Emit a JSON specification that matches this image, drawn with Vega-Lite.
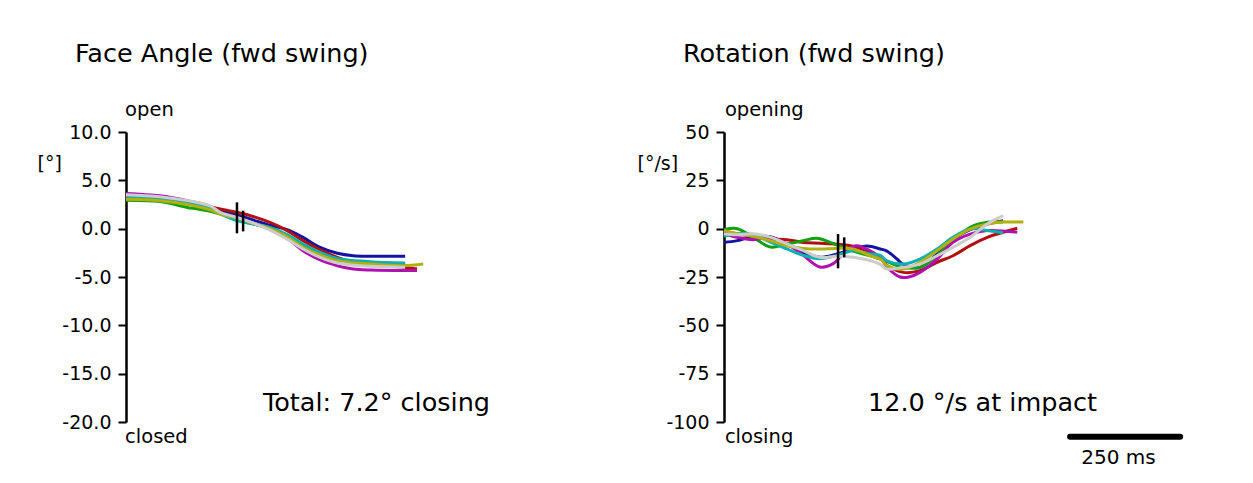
{
  "$schema": "https://vega.github.io/schema/vega-lite/v6.json",
  "autosize": {"type": "pad"},
  "padding": {"left": 37, "top": 41, "right": 57, "bottom": 16},
  "background": "white",
  "bounds": "flush",
  "spacing": 126,
  "config": {
    "view": {"stroke": null},
    "font": "DejaVu Sans",
    "text": {"font": "DejaVu Sans", "color": "black"},
    "axis": {
      "grid": false, "domainColor": "black", "domainWidth": 2.5,
      "tickColor": "black", "tickWidth": 2, "tickSize": 8,
      "labelColor": "black", "labelFontSize": 19, "labelFont": "DejaVu Sans", "labelPadding": 7,
      "labelFlush": false, "labelOverlap": false,
      "titleFont": "DejaVu Sans", "titleFontSize": 19, "titleFontWeight": "normal", "titleColor": "black"
    }
  },
  "datasets": {
    "curves": [
      {"panel":"face","series":"blue","t":0,"v":3.2},{"panel":"face","series":"blue","t":77,"v":3.05},{"panel":"face","series":"blue","t":139,"v":2.7},{"panel":"face","series":"blue","t":191,"v":2.1},{"panel":"face","series":"blue","t":214,"v":1.85},{"panel":"face","series":"blue","t":252,"v":1.41},{"panel":"face","series":"blue","t":282,"v":1.0},{"panel":"face","series":"blue","t":327,"v":0.35},{"panel":"face","series":"blue","t":366,"v":-0.1},{"panel":"face","series":"blue","t":402,"v":-0.9},{"panel":"face","series":"blue","t":441,"v":-1.93},{"panel":"face","series":"blue","t":480,"v":-2.55},{"panel":"face","series":"blue","t":516,"v":-2.8},{"panel":"face","series":"blue","t":555,"v":-2.85},{"panel":"face","series":"blue","t":634,"v":-2.86},
      {"panel":"face","series":"red","t":0,"v":3.2},{"panel":"face","series":"red","t":77,"v":3.05},{"panel":"face","series":"red","t":139,"v":2.75},{"panel":"face","series":"red","t":191,"v":2.25},{"panel":"face","series":"red","t":214,"v":2.03},{"panel":"face","series":"red","t":252,"v":1.69},{"panel":"face","series":"red","t":282,"v":1.35},{"panel":"face","series":"red","t":327,"v":0.65},{"panel":"face","series":"red","t":366,"v":-0.2},{"panel":"face","series":"red","t":402,"v":-1.24},{"panel":"face","series":"red","t":441,"v":-2.2},{"panel":"face","series":"red","t":480,"v":-2.97},{"panel":"face","series":"red","t":516,"v":-3.48},{"panel":"face","series":"red","t":555,"v":-3.76},{"panel":"face","series":"red","t":630,"v":-4.0},{"panel":"face","series":"red","t":661,"v":-4.17},
      {"panel":"face","series":"green","t":0,"v":2.95},{"panel":"face","series":"green","t":77,"v":2.8},{"panel":"face","series":"green","t":139,"v":2.2},{"panel":"face","series":"green","t":161,"v":2.05},{"panel":"face","series":"green","t":191,"v":1.8},{"panel":"face","series":"green","t":214,"v":1.52},{"panel":"face","series":"green","t":252,"v":0.9},{"panel":"face","series":"green","t":282,"v":0.55},{"panel":"face","series":"green","t":327,"v":0.05},{"panel":"face","series":"green","t":366,"v":-0.8},{"panel":"face","series":"green","t":402,"v":-1.8},{"panel":"face","series":"green","t":441,"v":-2.6},{"panel":"face","series":"green","t":480,"v":-3.2},{"panel":"face","series":"green","t":555,"v":-3.6},{"panel":"face","series":"green","t":634,"v":-3.7},
      {"panel":"face","series":"magenta","t":0,"v":3.65},{"panel":"face","series":"magenta","t":77,"v":3.4},{"panel":"face","series":"magenta","t":139,"v":2.9},{"panel":"face","series":"magenta","t":191,"v":2.3},{"panel":"face","series":"magenta","t":214,"v":1.6},{"panel":"face","series":"magenta","t":252,"v":1.0},{"panel":"face","series":"magenta","t":282,"v":0.6},{"panel":"face","series":"magenta","t":327,"v":0.0},{"panel":"face","series":"magenta","t":366,"v":-1.0},{"panel":"face","series":"magenta","t":402,"v":-2.28},{"panel":"face","series":"magenta","t":441,"v":-3.24},{"panel":"face","series":"magenta","t":480,"v":-3.83},{"panel":"face","series":"magenta","t":516,"v":-4.17},{"panel":"face","series":"magenta","t":555,"v":-4.28},{"panel":"face","series":"magenta","t":661,"v":-4.34},
      {"panel":"face","series":"cyan","t":0,"v":3.35},{"panel":"face","series":"cyan","t":77,"v":3.15},{"panel":"face","series":"cyan","t":139,"v":2.75},{"panel":"face","series":"cyan","t":191,"v":2.1},{"panel":"face","series":"cyan","t":214,"v":1.55},{"panel":"face","series":"cyan","t":252,"v":0.83},{"panel":"face","series":"cyan","t":282,"v":0.55},{"panel":"face","series":"cyan","t":327,"v":0.14},{"panel":"face","series":"cyan","t":366,"v":-0.6},{"panel":"face","series":"cyan","t":402,"v":-1.59},{"panel":"face","series":"cyan","t":441,"v":-2.45},{"panel":"face","series":"cyan","t":480,"v":-3.07},{"panel":"face","series":"cyan","t":555,"v":-3.41},{"panel":"face","series":"cyan","t":634,"v":-3.55},
      {"panel":"face","series":"yellow","t":0,"v":3.05},{"panel":"face","series":"yellow","t":77,"v":2.9},{"panel":"face","series":"yellow","t":139,"v":2.5},{"panel":"face","series":"yellow","t":191,"v":1.95},{"panel":"face","series":"yellow","t":214,"v":1.52},{"panel":"face","series":"yellow","t":252,"v":1.1},{"panel":"face","series":"yellow","t":282,"v":0.65},{"panel":"face","series":"yellow","t":327,"v":0.0},{"panel":"face","series":"yellow","t":366,"v":-0.85},{"panel":"face","series":"yellow","t":402,"v":-1.93},{"panel":"face","series":"yellow","t":441,"v":-2.72},{"panel":"face","series":"yellow","t":480,"v":-3.31},{"panel":"face","series":"yellow","t":555,"v":-3.66},{"panel":"face","series":"yellow","t":630,"v":-3.83},{"panel":"face","series":"yellow","t":675,"v":-3.66},
      {"panel":"face","series":"grey","t":0,"v":3.5},{"panel":"face","series":"grey","t":77,"v":3.3},{"panel":"face","series":"grey","t":139,"v":2.9},{"panel":"face","series":"grey","t":191,"v":2.35},{"panel":"face","series":"grey","t":214,"v":1.69},{"panel":"face","series":"grey","t":252,"v":1.17},{"panel":"face","series":"grey","t":282,"v":0.7},{"panel":"face","series":"grey","t":327,"v":-0.15},{"panel":"face","series":"grey","t":366,"v":-1.1},{"panel":"face","series":"grey","t":402,"v":-2.1},{"panel":"face","series":"grey","t":441,"v":-2.97},{"panel":"face","series":"grey","t":480,"v":-3.55},{"panel":"face","series":"grey","t":555,"v":-3.9},{"panel":"face","series":"grey","t":634,"v":-4.0},

      {"panel":"rot","series":"blue","t":0,"v":-7.1},{"panel":"rot","series":"blue","t":30,"v":-6.2},{"panel":"rot","series":"blue","t":66,"v":-4.0},{"panel":"rot","series":"blue","t":105,"v":-4.2},{"panel":"rot","series":"blue","t":143,"v":-7.9},{"panel":"rot","series":"blue","t":180,"v":-12.2},{"panel":"rot","series":"blue","t":218,"v":-14.8},{"panel":"rot","series":"blue","t":257,"v":-13.1},{"panel":"rot","series":"blue","t":293,"v":-10.5},{"panel":"rot","series":"blue","t":325,"v":-9.0},{"panel":"rot","series":"blue","t":355,"v":-10.5},{"panel":"rot","series":"blue","t":370,"v":-11.6},{"panel":"rot","series":"blue","t":393,"v":-15.7},{"panel":"rot","series":"blue","t":407,"v":-18.5},{"panel":"rot","series":"blue","t":445,"v":-20},{"panel":"rot","series":"blue","t":484,"v":-13},{"panel":"rot","series":"blue","t":520,"v":-5.5},{"panel":"rot","series":"blue","t":559,"v":-0.5},{"panel":"rot","series":"blue","t":598,"v":2.4},{"panel":"rot","series":"blue","t":634,"v":4.1},
      {"panel":"rot","series":"red","t":0,"v":-1.5},{"panel":"rot","series":"red","t":66,"v":-4},{"panel":"rot","series":"red","t":105,"v":-5.3},{"panel":"rot","series":"red","t":143,"v":-5.7},{"panel":"rot","series":"red","t":180,"v":-7.1},{"panel":"rot","series":"red","t":218,"v":-7.5},{"panel":"rot","series":"red","t":257,"v":-8},{"panel":"rot","series":"red","t":293,"v":-9.1},{"panel":"rot","series":"red","t":355,"v":-15},{"panel":"rot","series":"red","t":370,"v":-19},{"panel":"rot","series":"red","t":407,"v":-22.6},{"panel":"rot","series":"red","t":445,"v":-21.7},{"panel":"rot","series":"red","t":484,"v":-17.4},{"panel":"rot","series":"red","t":520,"v":-14},{"panel":"rot","series":"red","t":559,"v":-8.8},{"panel":"rot","series":"red","t":598,"v":-4.5},{"panel":"rot","series":"red","t":634,"v":-1.9},{"panel":"rot","series":"red","t":666,"v":0.2},
      {"panel":"rot","series":"green","t":0,"v":-0.5},{"panel":"rot","series":"green","t":30,"v":0},{"panel":"rot","series":"green","t":66,"v":-4.4},{"panel":"rot","series":"green","t":105,"v":-9.5},{"panel":"rot","series":"green","t":143,"v":-7.9},{"panel":"rot","series":"green","t":180,"v":-6.2},{"panel":"rot","series":"green","t":211,"v":-5.0},{"panel":"rot","series":"green","t":241,"v":-7.1},{"panel":"rot","series":"green","t":280,"v":-10.5},{"panel":"rot","series":"green","t":316,"v":-13.1},{"panel":"rot","series":"green","t":340,"v":-14.5},{"panel":"rot","series":"green","t":370,"v":-17},{"panel":"rot","series":"green","t":407,"v":-20},{"panel":"rot","series":"green","t":445,"v":-20},{"panel":"rot","series":"green","t":484,"v":-14},{"panel":"rot","series":"green","t":520,"v":-6.2},{"panel":"rot","series":"green","t":559,"v":0.7},{"panel":"rot","series":"green","t":598,"v":3.3},{"panel":"rot","series":"green","t":634,"v":3.4},
      {"panel":"rot","series":"magenta","t":0,"v":-2.6},{"panel":"rot","series":"magenta","t":30,"v":-4.4},{"panel":"rot","series":"magenta","t":66,"v":-5.7},{"panel":"rot","series":"magenta","t":105,"v":-4.4},{"panel":"rot","series":"magenta","t":143,"v":-7.9},{"panel":"rot","series":"magenta","t":180,"v":-13.8},{"panel":"rot","series":"magenta","t":218,"v":-19.8},{"panel":"rot","series":"magenta","t":248,"v":-18.1},{"panel":"rot","series":"magenta","t":280,"v":-10.5},{"panel":"rot","series":"magenta","t":302,"v":-8.8},{"panel":"rot","series":"magenta","t":332,"v":-11.4},{"panel":"rot","series":"magenta","t":355,"v":-15},{"panel":"rot","series":"magenta","t":375,"v":-21},{"panel":"rot","series":"magenta","t":400,"v":-25},{"panel":"rot","series":"magenta","t":420,"v":-25},{"panel":"rot","series":"magenta","t":445,"v":-22.6},{"panel":"rot","series":"magenta","t":484,"v":-15.7},{"panel":"rot","series":"magenta","t":520,"v":-7.1},{"panel":"rot","series":"magenta","t":559,"v":-2.8},{"panel":"rot","series":"magenta","t":598,"v":-1.0},{"panel":"rot","series":"magenta","t":666,"v":-1.9},
      {"panel":"rot","series":"cyan","t":0,"v":-3.8},{"panel":"rot","series":"cyan","t":30,"v":-2.6},{"panel":"rot","series":"cyan","t":66,"v":-3.1},{"panel":"rot","series":"cyan","t":105,"v":-7},{"panel":"rot","series":"cyan","t":143,"v":-10.5},{"panel":"rot","series":"cyan","t":180,"v":-13.8},{"panel":"rot","series":"cyan","t":218,"v":-15.5},{"panel":"rot","series":"cyan","t":257,"v":-13.8},{"panel":"rot","series":"cyan","t":293,"v":-11.4},{"panel":"rot","series":"cyan","t":332,"v":-13.1},{"panel":"rot","series":"cyan","t":355,"v":-13.8},{"panel":"rot","series":"cyan","t":370,"v":-16.6},{"panel":"rot","series":"cyan","t":407,"v":-18.3},{"panel":"rot","series":"cyan","t":445,"v":-15.7},{"panel":"rot","series":"cyan","t":484,"v":-10.5},{"panel":"rot","series":"cyan","t":520,"v":-4.5},{"panel":"rot","series":"cyan","t":559,"v":-0.2},{"panel":"rot","series":"cyan","t":598,"v":-1.0},{"panel":"rot","series":"cyan","t":634,"v":-2.2},
      {"panel":"rot","series":"yellow","t":0,"v":-0.9},{"panel":"rot","series":"yellow","t":30,"v":-2.6},{"panel":"rot","series":"yellow","t":66,"v":-4},{"panel":"rot","series":"yellow","t":105,"v":-6.2},{"panel":"rot","series":"yellow","t":143,"v":-8.8},{"panel":"rot","series":"yellow","t":180,"v":-10.2},{"panel":"rot","series":"yellow","t":218,"v":-10.5},{"panel":"rot","series":"yellow","t":257,"v":-10.2},{"panel":"rot","series":"yellow","t":293,"v":-10.5},{"panel":"rot","series":"yellow","t":332,"v":-14},{"panel":"rot","series":"yellow","t":355,"v":-15.7},{"panel":"rot","series":"yellow","t":370,"v":-19.1},{"panel":"rot","series":"yellow","t":407,"v":-20.9},{"panel":"rot","series":"yellow","t":445,"v":-17.4},{"panel":"rot","series":"yellow","t":484,"v":-11.4},{"panel":"rot","series":"yellow","t":520,"v":-5.3},{"panel":"rot","series":"yellow","t":559,"v":-0.2},{"panel":"rot","series":"yellow","t":598,"v":2.4},{"panel":"rot","series":"yellow","t":634,"v":3.4},{"panel":"rot","series":"yellow","t":680,"v":3.4},
      {"panel":"rot","series":"grey","t":0,"v":-2.6},{"panel":"rot","series":"grey","t":30,"v":-3.1},{"panel":"rot","series":"grey","t":66,"v":-2.6},{"panel":"rot","series":"grey","t":105,"v":-4.4},{"panel":"rot","series":"grey","t":143,"v":-7.9},{"panel":"rot","series":"grey","t":180,"v":-11.4},{"panel":"rot","series":"grey","t":218,"v":-14.8},{"panel":"rot","series":"grey","t":257,"v":-14.3},{"panel":"rot","series":"grey","t":293,"v":-14.8},{"panel":"rot","series":"grey","t":332,"v":-16.5},{"panel":"rot","series":"grey","t":355,"v":-18.5},{"panel":"rot","series":"grey","t":370,"v":-20.9},{"panel":"rot","series":"grey","t":407,"v":-20},{"panel":"rot","series":"grey","t":445,"v":-18.3},{"panel":"rot","series":"grey","t":484,"v":-14},{"panel":"rot","series":"grey","t":520,"v":-9.7},{"panel":"rot","series":"grey","t":559,"v":-4.5},{"panel":"rot","series":"grey","t":598,"v":2.4},{"panel":"rot","series":"grey","t":634,"v":6.7}
    ],
    "impact": [
      {"panel":"face","t":252,"lo":-0.48,"hi":2.72},{"panel":"face","t":266,"lo":-0.28,"hi":1.86},
      {"panel":"rot","t":259,"lo":-20.5,"hi":-2.8},{"panel":"rot","t":273,"lo":-14.8,"hi":-4.5}
    ],
    "labels": [
      {"panel":"face","kind":"title","label":"Face Angle (fwd swing)","t":-116,"v":17.28},
      {"panel":"face","kind":"corner","label":"open","t":-2,"v":11.69},
      {"panel":"face","kind":"corner","label":"closed","t":-2,"v":-22.14},
      {"panel":"face","kind":"note","label":"Total: 7.2° closing","t":311,"v":-18.83},
      {"panel":"rot","kind":"title","label":"Rotation (fwd swing)","t":-93,"v":86.4},
      {"panel":"rot","kind":"corner","label":"opening","t":2,"v":58.46},
      {"panel":"rot","kind":"corner","label":"closing","t":2,"v":-110.7},
      {"panel":"rot","kind":"note","label":"12.0 °/s at impact","t":327,"v":-94.15}
    ]
  },
  "hconcat": [
    {
      "width": 472, "height": 290,
      "layer": [
        {
          "mark": {"type": "rule", "color": "black", "strokeWidth": 2.5},
          "encoding": {
            "y": {"datum": 0, "type": "quantitative", "scale": {"domain": [-20, 10], "nice": false},
              "axis": {"values": [-20, -15, -10, -5, 0, 5, 10], "labelExpr": "(datum.value < 0 ? '-' : '') + format(abs(datum.value), '.1f')",
                "title": "[°]", "titleAngle": 0, "titleAlign": "left", "titleBaseline": "alphabetic", "titleX": -89, "titleY": 37}}
          }
        },
        {
          "data": {"name": "curves"},
          "transform": [{"filter": "datum.panel == 'face'"}],
          "mark": {"type": "line", "interpolate": "catmull-rom", "strokeWidth": 3},
          "encoding": {
            "x": {"field": "t", "type": "quantitative", "scale": {"domain": [0, 1072], "nice": false, "zero": false}, "axis": null},
            "y": {"field": "v", "type": "quantitative"},
            "color": {"field": "series", "type": "nominal", "legend": null,
              "scale": {"domain": ["blue","red","green","magenta","cyan","yellow","grey"], "range": ["#1414a0","#b01010","#10a010","#b010b0","#10b0b0","#b0b010","#cccccc"]}},
            "strokeWidth": {"condition": {"test": "datum.series == 'grey'", "value": 3.8}, "value": 3}
          }
        },
        {
          "data": {"name": "impact"},
          "transform": [{"filter": "datum.panel == 'face'"}],
          "mark": {"type": "rule", "color": "black", "strokeWidth": 2.5},
          "encoding": {"x": {"field": "t", "type": "quantitative"}, "y": {"field": "lo", "type": "quantitative"}, "y2": {"field": "hi"}}
        },
        {
          "data": {"name": "labels"},
          "transform": [{"filter": "datum.panel == 'face'"}],
          "mark": {"type": "text", "align": "left", "baseline": "alphabetic", "color": "black"},
          "encoding": {
            "x": {"field": "t", "type": "quantitative"}, "y": {"field": "v", "type": "quantitative"},
            "text": {"field": "label"},
            "size": {"condition": {"test": "datum.kind == 'corner'", "value": 19.5}, "value": 25.5}
          }
        }
      ]
    },
    {
      "width": 472, "height": 290,
      "layer": [
        {
          "mark": {"type": "rule", "color": "black", "strokeWidth": 2.5},
          "encoding": {
            "y": {"datum": 0, "type": "quantitative", "scale": {"domain": [-100, 50], "nice": false},
              "axis": {"values": [-100, -75, -50, -25, 0, 25, 50], "labelExpr": "(datum.value < 0 ? '-' : '') + format(abs(datum.value), 'd')",
                "title": "[°/s]", "titleAngle": 0, "titleAlign": "left", "titleBaseline": "alphabetic", "titleX": -87, "titleY": 37}}
          }
        },
        {
          "data": {"name": "curves"},
          "transform": [{"filter": "datum.panel == 'rot'"}],
          "mark": {"type": "line", "interpolate": "catmull-rom", "strokeWidth": 3},
          "encoding": {
            "x": {"field": "t", "type": "quantitative", "scale": {"domain": [0, 1072], "nice": false, "zero": false}, "axis": null},
            "y": {"field": "v", "type": "quantitative"},
            "color": {"field": "series", "type": "nominal", "legend": null,
              "scale": {"domain": ["blue","red","green","magenta","cyan","yellow","grey"], "range": ["#1414a0","#b01010","#10a010","#b010b0","#10b0b0","#b0b010","#cccccc"]}},
            "strokeWidth": {"condition": {"test": "datum.series == 'grey'", "value": 3.8}, "value": 3}
          }
        },
        {
          "data": {"name": "impact"},
          "transform": [{"filter": "datum.panel == 'rot'"}],
          "mark": {"type": "rule", "color": "black", "strokeWidth": 2.5},
          "encoding": {"x": {"field": "t", "type": "quantitative"}, "y": {"field": "lo", "type": "quantitative"}, "y2": {"field": "hi"}}
        },
        {
          "data": {"name": "labels"},
          "transform": [{"filter": "datum.panel == 'rot'"}],
          "mark": {"type": "text", "align": "left", "baseline": "alphabetic", "color": "black"},
          "encoding": {
            "x": {"field": "t", "type": "quantitative"}, "y": {"field": "v", "type": "quantitative"},
            "text": {"field": "label"},
            "size": {"condition": {"test": "datum.kind == 'corner'", "value": 19.5}, "value": 25.5}
          }
        },
        {
          "data": {"values": [{"start": 786, "end": 1036, "v": -107.6}]},
          "mark": {"type": "rule", "color": "black", "strokeWidth": 6, "strokeCap": "round"},
          "encoding": {"x": {"field": "start", "type": "quantitative"}, "x2": {"field": "end"}, "y": {"field": "v", "type": "quantitative"}}
        },
        {
          "data": {"values": [{"label": "250 ms", "t": 896, "v": -121.6}]},
          "mark": {"type": "text", "align": "center", "baseline": "alphabetic", "fontSize": 20, "color": "black"},
          "encoding": {"x": {"field": "t", "type": "quantitative"}, "y": {"field": "v", "type": "quantitative"}, "text": {"field": "label"}}
        }
      ]
    }
  ]
}
